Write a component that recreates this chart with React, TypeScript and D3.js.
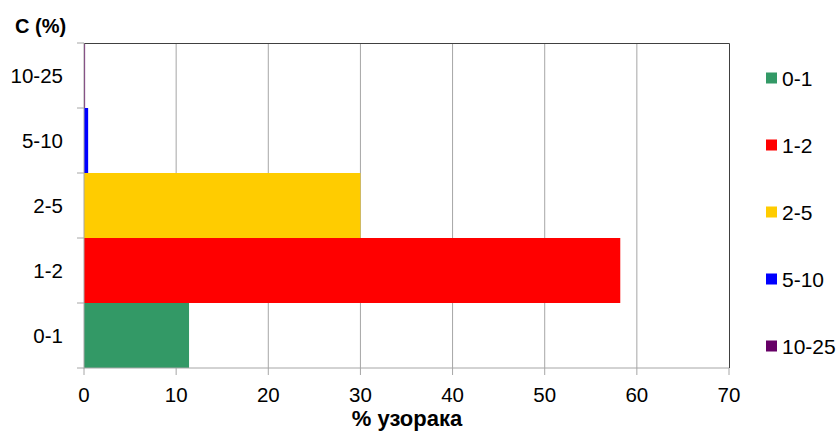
import React, { useEffect, useRef } from 'react';
import * as d3 from 'd3';

const categories = ['0-1', '1-2', '2-5', '5-10', '10-25'];
const values = [11.4, 58.2, 30.0, 0.45, 0.12];
const colors = ['#339966', '#ff0000', '#ffcc00', '#0000ff', '#660066'];
const xTicks = [0, 10, 20, 30, 40, 50, 60, 70];

const width = 838;
const height = 432;
const margin = { top: 43, right: 109, bottom: 64, left: 84 };
const font = '"Liberation Sans", Arial, sans-serif';

export default function App() {
  const svgRef = useRef<SVGSVGElement>(null);

  useEffect(() => {
    if (!svgRef.current) return;
    const svg = d3.select(svgRef.current);
    svg.selectAll('*').remove();

    const x = d3.scaleLinear().domain([0, 70]).range([margin.left, width - margin.right]);
    const y = d3.scaleBand<string>()
      .domain([...categories].reverse())
      .range([margin.top, height - margin.bottom])
      .padding(0);

    const x0 = x(0), x1 = x(70);
    const y0 = margin.top, y1 = height - margin.bottom;

    // grid
    svg.append('g')
      .selectAll('line')
      .data(xTicks.slice(1, -1))
      .join('line')
      .attr('x1', d => x(d)).attr('x2', d => x(d))
      .attr('y1', y0).attr('y2', y1)
      .attr('stroke', '#a6a6a6').attr('stroke-width', 1);

    // bars
    svg.append('g')
      .selectAll('rect')
      .data(categories)
      .join('rect')
      .attr('x', x0)
      .attr('y', d => y(d)!)
      .attr('width', (d, i) => Math.max(x(values[i]) - x0, 1))
      .attr('height', y.bandwidth())
      .attr('fill', (d, i) => colors[i]);

    // frame: top + right dark
    svg.append('path')
      .attr('d', `M${x0},${y0 + 0.5}H${x1 + 0.5}V${y1}`)
      .attr('fill', 'none').attr('stroke', '#404040').attr('stroke-width', 1);

    // y axis
    const yAxis = svg.append('g').attr('transform', `translate(${x0},0)`);
    yAxis.append('line').attr('x1', 0).attr('x2', 0).attr('y1', y0).attr('y2', y1 + 0.5)
      .attr('stroke', '#a6a6a6');
    const yBounds = [y0, ...categories.map(c => y(c)! + y.bandwidth())];
    yAxis.selectAll('line.tick')
      .data(yBounds)
      .join('line')
      .attr('class', 'tick')
      .attr('x1', -7).attr('x2', 0)
      .attr('y1', d => d).attr('y2', d => d)
      .attr('stroke', '#a6a6a6');
    yAxis.selectAll('text')
      .data(categories)
      .join('text')
      .attr('x', -21)
      .attr('y', d => y(d)! + y.bandwidth() / 2)
      .attr('dy', '0.36em')
      .attr('text-anchor', 'end')
      .attr('font-family', font)
      .attr('font-size', 20.5)
      .attr('fill', '#000')
      .text(d => d);

    // x axis
    const xAxis = svg.append('g').attr('transform', `translate(0,${y1})`);
    xAxis.append('line').attr('x1', x0).attr('x2', x1).attr('y1', 0).attr('y2', 0)
      .attr('stroke', '#a6a6a6');
    xAxis.selectAll('line.tick')
      .data(xTicks)
      .join('line')
      .attr('class', 'tick')
      .attr('x1', d => x(d)).attr('x2', d => x(d))
      .attr('y1', 0).attr('y2', 7)
      .attr('stroke', '#a6a6a6');
    xAxis.selectAll('text')
      .data(xTicks)
      .join('text')
      .attr('x', d => x(d))
      .attr('y', 34)
      .attr('text-anchor', 'middle')
      .attr('font-family', font)
      .attr('font-size', 20.5)
      .attr('fill', '#000')
      .text(d => d);

    // titles
    svg.append('text')
      .attr('x', 15).attr('y', 33)
      .attr('font-family', font).attr('font-size', 20).attr('font-weight', 'bold')
      .text('C (%)');
    svg.append('text')
      .attr('x', 407).attr('y', 426)
      .attr('text-anchor', 'middle')
      .attr('font-family', font).attr('font-size', 22).attr('font-weight', 'bold')
      .text('% узорака');

    // legend
    const legend = svg.append('g').attr('transform', 'translate(766,0)');
    const ly = d3.scalePoint<string>().domain(categories).range([78, 346]);
    const items = legend.selectAll('g')
      .data(categories)
      .join('g')
      .attr('transform', d => `translate(0,${ly(d)})`);
    items.append('rect')
      .attr('x', 0).attr('y', -5.5).attr('width', 11).attr('height', 11)
      .attr('fill', (d, i) => colors[i]);
    items.append('text')
      .attr('x', 16).attr('y', 0).attr('dy', '0.36em')
      .attr('font-family', font).attr('font-size', 21)
      .text(d => d);
  }, []);

  return (
    <svg
      ref={svgRef}
      width={width}
      height={height}
      style={{ position: 'absolute', left: 0, top: 0, background: '#fff' }}
    />
  );
}
